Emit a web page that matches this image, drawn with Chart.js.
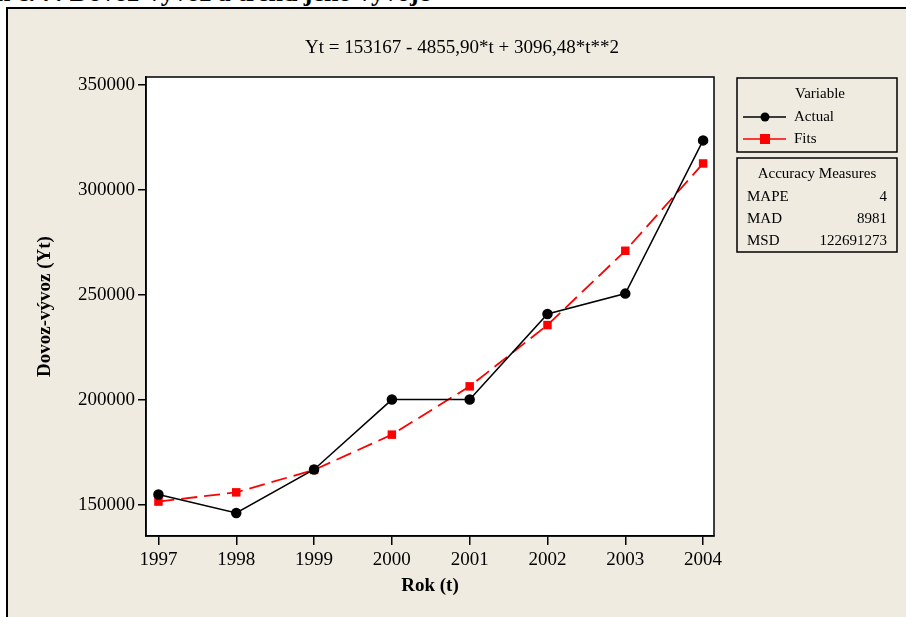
<!DOCTYPE html>
<html>
<head>
<meta charset="utf-8">
<script src="https://cdn.jsdelivr.net/npm/chart.js@4/dist/chart.umd.min.js"></script>
<style>
  html, body { margin: 0; padding: 0; background: #fff; width: 906px; height: 617px; overflow: hidden; }
  #caption { position: absolute; left: -4px; top: -20px; font: bold 26px/26px "Liberation Serif", serif; white-space: nowrap; color: #000; }
  #frame { position: absolute; left: 6px; top: 7px; width: 920px; height: 630px; background: #efebe1; border-left: 2px solid #000; border-top: 2px solid #000; }
  #wrap { position: absolute; left: 0; top: 0; width: 906px; height: 617px; }
</style>
</head>
<body>
<div id="caption">n č. 7: Dovoz-vývoz a trend jeho vývoje</div>
<div id="frame"></div>
<div id="wrap"><canvas id="chart" width="906" height="617"></canvas></div>
<script>
// values
const years = [1997, 1998, 1999, 2000, 2001, 2002, 2003, 2004];
const actual = [154800, 146000, 166700, 200000, 200000, 240800, 250500, 323500];
const fits = [151400, 155800, 166500, 183300, 206300, 235500, 270900, 312500];
const yTicks = [150000, 200000, 250000, 300000, 350000];
const equation = 'Yt = 153167 - 4855,90*t + 3096,48*t**2';
const accuracyNames = ['MAPE', 'MAD', 'MSD'];
const accuracyValues = ['4', '8981', '122691273'];

const serif = '"Liberation Serif", "Times New Roman", serif';

// White plot box, equation on top, legend boxes on the right
const decorations = {
    id: 'decorations',
    beforeDraw(chart) {
        const { ctx, chartArea: a } = chart;
        ctx.save();
        ctx.fillStyle = '#fff';
        ctx.fillRect(a.left, a.top, a.right - a.left, a.bottom - a.top);
        ctx.restore();
    },
    afterDraw(chart) {
        const { ctx, chartArea: a } = chart;
        ctx.save();
        ctx.strokeStyle = '#000';
        ctx.lineWidth = 1.5;
        ctx.strokeRect(a.left, a.top, a.right - a.left, a.bottom - a.top);

        ctx.fillStyle = '#000';
        ctx.font = '19px ' + serif;
        ctx.textAlign = 'center';
        ctx.textBaseline = 'middle';
        ctx.fillText(equation, 462, 48);

        // legend: Variable
        ctx.lineWidth = 1.5;
        ctx.strokeRect(737, 78, 160, 74);
        ctx.strokeRect(737, 158, 160, 94);
        ctx.font = '15px ' + serif;
        ctx.fillText('Variable', 820, 94);

        ctx.textAlign = 'left';
        ctx.strokeStyle = '#000';
        ctx.lineWidth = 1.5;
        ctx.beginPath(); ctx.moveTo(743, 117); ctx.lineTo(786, 117); ctx.stroke();
        ctx.beginPath(); ctx.arc(765, 117, 4.5, 0, Math.PI * 2); ctx.fill();
        ctx.fillText('Actual', 794, 117);

        ctx.strokeStyle = '#ff0000';
        ctx.fillStyle = '#ff0000';
        ctx.beginPath(); ctx.moveTo(743, 139); ctx.lineTo(786, 139); ctx.stroke();
        ctx.fillRect(760, 134, 10, 10);
        ctx.fillStyle = '#000';
        ctx.fillText('Fits', 794, 139);

        // legend: Accuracy Measures
        ctx.textAlign = 'center';
        ctx.fillText('Accuracy Measures', 817, 174);
        accuracyNames.forEach((name, i) => {
            const y = 197 + i * 22;
            ctx.textAlign = 'left';
            ctx.fillText(name, 747, y);
            ctx.textAlign = 'right';
            ctx.fillText(accuracyValues[i], 887, y);
        });
        ctx.restore();
    }
};

new Chart(document.getElementById('chart'), {
    type: 'line',
    data: {
        datasets: [{
            label: 'Actual',
            data: years.map((yr, i) => ({ x: yr, y: actual[i] })),
            borderColor: '#000',
            backgroundColor: '#000',
            borderWidth: 1.5,
            pointStyle: 'circle',
            pointRadius: 4.5,
            fill: false
        }, {
            label: 'Fits',
            data: years.map((yr, i) => ({ x: yr, y: fits[i] })),
            borderColor: '#ff0000',
            backgroundColor: '#ff0000',
            borderWidth: 1.8,
            borderDash: [16, 7],
            pointStyle: 'rect',
            pointRadius: 6,
            pointBorderWidth: 0,
            fill: false
        }]
    },
    options: {
        responsive: false,
        animation: false,
        layout: { padding: { left: 0, top: 77, right: 192, bottom: 0 } },
        plugins: { legend: { display: false }, tooltip: { enabled: false } },
        scales: {
            x: {
                type: 'linear',
                min: 1996.84,
                max: 2004.14,
                afterBuildTicks: scale => { scale.ticks = years.map(v => ({ value: v })); },
                afterFit: scale => { scale.height = 81; },
                ticks: {
                    color: '#000',
                    padding: 4,
                    maxRotation: 0,
                    autoSkip: false,
                    font: { family: serif, size: 19 },
                    callback: v => String(v)
                },
                grid: { drawOnChartArea: false, drawTicks: true, tickLength: 9, color: '#000', lineWidth: 1.5 },
                border: { display: true, color: '#000', width: 1.5 },
                title: {
                    display: true,
                    text: 'Rok (t)',
                    color: '#000',
                    font: { family: serif, size: 19, weight: 'bold' },
                    padding: { top: 0, bottom: 20 }
                }
            },
            y: {
                min: 135000,
                max: 353700,
                afterBuildTicks: scale => { scale.ticks = yTicks.map(v => ({ value: v })); },
                afterFit: scale => { scale.width = 146; },
                ticks: {
                    color: '#000',
                    padding: 3,
                    font: { family: serif, size: 19 },
                    callback: v => String(v)
                },
                grid: { drawOnChartArea: false, drawTicks: true, tickLength: 8, color: '#000', lineWidth: 1.5 },
                border: { display: true, color: '#000', width: 1.5 },
                title: {
                    display: true,
                    text: 'Dovoz-vývoz (Yt)',
                    color: '#000',
                    font: { family: serif, size: 19, weight: 'bold' },
                    padding: { top: 34, bottom: 0 }
                }
            }
        }
    },
    plugins: [decorations]
});
</script>
</body>
</html>
